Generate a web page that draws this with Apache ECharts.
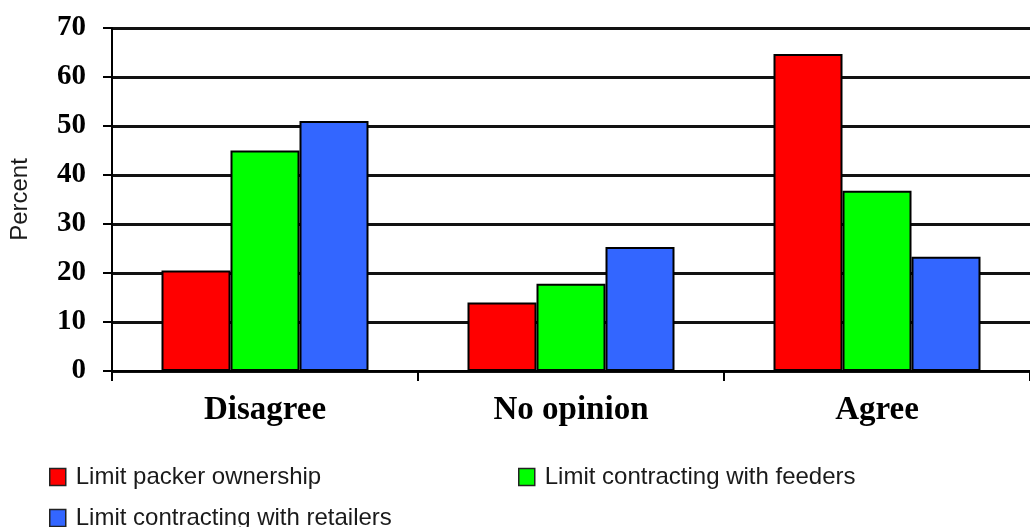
<!DOCTYPE html>
<html>
<head>
<meta charset="utf-8">
<script src="https://cdn.jsdelivr.net/npm/echarts@6/dist/echarts.min.js"></script>
<style>
  html, body { margin: 0; padding: 0; background: #ffffff; }
  #chart { width: 1030px; height: 527px; }
</style>
</head>
<body>
<div id="chart"></div>
<script>
// Survey responses (percent) by opinion category
const categories = ['Disagree', 'No opinion', 'Agree'];
const packerOwnership = [20.5, 14, 64.7];
const feederContracting = [45, 17.8, 36.8];
const retailerContracting = [51, 25.3, 23.3];
const yTicks = [0, 10, 20, 30, 40, 50, 60, 70];

const seriesNames = [
  'Limit packer ownership',
  'Limit contracting with feeders',
  'Limit contracting with retailers'
];
const seriesColors = ['#ff0000', '#00ff00', '#3366ff'];
const seriesData = [packerOwnership, feederContracting, retailerContracting];

const serifBold = '"Liberation Serif", "Times New Roman", serif';
const sans = '"Liberation Sans", Arial, sans-serif';

const chart = echarts.init(document.getElementById('chart'), null, { renderer: 'canvas' });

function legendAt(name, left, top) {
  return {
    data: [name],
    left: left,
    top: top,
    orient: 'horizontal',
    icon: 'rect',
    itemWidth: 16,
    itemHeight: 17,
    padding: 0,
    selectedMode: false,
    itemStyle: { borderColor: '#222', borderWidth: 1.5 },
    textStyle: {
      fontFamily: sans,
      fontSize: 24,
      color: '#1a1a1a',
      padding: [0, 0, 0, 5]
    }
  };
}

chart.setOption({
  animation: false,
  backgroundColor: '#ffffff',
  grid: { left: 112, right: -2, top: 28, bottom: 156, containLabel: false },
  legend: [
    legendAt(seriesNames[0], 49, 465),
    legendAt(seriesNames[1], 518, 465),
    legendAt(seriesNames[2], 49, 506)
  ],
  xAxis: {
    type: 'category',
    data: categories,
    boundaryGap: true,
    axisLine: { show: true, lineStyle: { color: '#000', width: 2 } },
    axisTick: { show: true, alignWithLabel: false, length: 10, lineStyle: { color: '#000', width: 2 } },
    axisLabel: {
      fontFamily: serifBold,
      fontWeight: 'bold',
      fontSize: 33,
      color: '#000',
      margin: 23
    },
    splitLine: { show: false }
  },
  yAxis: {
    type: 'value',
    min: yTicks[0],
    max: yTicks[yTicks.length - 1],
    interval: 10,
    name: 'Percent',
    nameLocation: 'middle',
    nameGap: 92,
    nameRotate: 90,
    nameTextStyle: {
      fontFamily: sans,
      fontSize: 24,
      color: '#1a1a1a',
      verticalAlign: 'middle'
    },
    axisLine: { show: true, lineStyle: { color: '#000', width: 2 } },
    axisTick: { show: true, length: 9, lineStyle: { color: '#000', width: 2 } },
    axisLabel: {
      fontFamily: serifBold,
      fontWeight: 'bold',
      fontSize: 29,
      color: '#000',
      margin: 26,
      padding: [0, 0, 5, 0]
    },
    splitLine: { show: true, lineStyle: { color: '#111', width: 3 } }
  },
  series: seriesData.map(function (values, i) {
    return {
      name: seriesNames[i],
      type: 'bar',
      data: values,
      barWidth: 69,
      barGap: '0%',
      itemStyle: {
        color: seriesColors[i],
        borderColor: '#000',
        borderWidth: 2
      }
    };
  })
});
</script>
</body>
</html>
